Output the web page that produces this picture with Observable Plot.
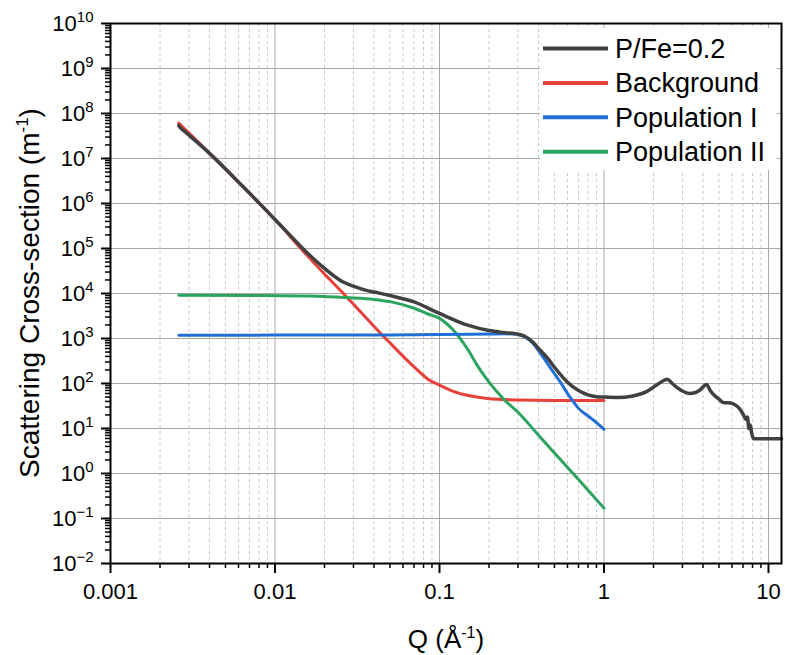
<!DOCTYPE html>
<html>
<head>
<meta charset="utf-8">
<script src="https://cdn.jsdelivr.net/npm/d3@7"></script>
<script src="https://cdn.jsdelivr.net/npm/@observablehq/plot@0.6"></script>
<style>
  html, body { margin: 0; padding: 0; background: white; }
  #wrap { position: relative; width: 785px; height: 655px; font-family: "Liberation Sans", Arial, sans-serif; }
  #legend { position: absolute; left: 540px; top: 28px; width: 237px; height: 142px; background: white; }
</style>
</head>
<body>
<div id="wrap"><div id="legend"></div></div>
<script>
// ---- Data ----
const seriesNames = ["P/Fe=0.2", "Background", "Population I", "Population II"];
const seriesColors = ["#404040", "#e8403a", "#1f6fd6", "#2ba45f"];
const seriesWidths = [3.5, 3, 3, 3];

// P/Fe=0.2 measured curve
const qSample = [0.0026, 0.00265, 0.0027, 0.0028, 0.003, 0.004, 0.0063, 0.01, 0.012, 0.0158, 0.02, 0.025, 0.03, 0.035, 0.043, 0.05, 0.07, 0.1, 0.15, 0.2, 0.25, 0.3, 0.33, 0.37, 0.4, 0.45, 0.5, 0.6, 0.7, 0.8, 0.9, 1.0, 1.2, 1.5, 1.8, 2.0, 2.2, 2.42, 2.6, 2.8, 3.0, 3.3, 3.6, 3.8, 4.2, 4.4, 4.7, 5.0, 5.3, 5.9, 6.3, 6.7, 7.0, 7.3, 7.45, 7.6, 7.75, 7.9, 8.1, 8.25, 12];
const iSample = [5.4e7, 4.9e7, 4.6e7, 4.1e7, 3.3e7, 1.3e7, 2.5e6, 4.4e5, 2.2e5, 7.8e4, 3.6e4, 1.95e4, 1.45e4, 1.2e4, 1.02e4, 9.0e3, 6.5e3, 3.6e3, 1.95e3, 1.5e3, 1.35e3, 1.25e3, 1.12e3, 830, 600, 380, 230, 107, 70, 56, 51, 50, 49, 53, 65, 83, 105, 125, 100, 80, 68, 60, 63, 70, 95, 72, 54, 45, 38, 37, 33, 27, 21, 16, 18, 10, 12, 8, 6, 5.9, 5.9];

// Background fit
const qBackground = [0.0026, 0.004, 0.0063, 0.01, 0.0158, 0.02, 0.0251, 0.0316, 0.0398, 0.045, 0.05, 0.063, 0.07, 0.085, 0.1, 0.12, 0.15, 0.2, 0.3, 0.5, 1.0];
const iBackground = [6.1e7, 1.32e7, 2.5e6, 4.4e5, 6.8e4, 2.7e4, 1.15e4, 4.7e3, 1.9e3, 1.18e3, 800, 340, 235, 125, 92, 68, 54, 46, 43, 42, 42];

// Population I
const qPop1 = [0.0026, 0.01, 0.05, 0.1, 0.2, 0.25, 0.3, 0.33, 0.37, 0.4, 0.45, 0.5, 0.55, 0.6, 0.65, 0.7, 0.8, 0.9, 1.0];
const iPop1 = [1.18e3, 1.19e3, 1.2e3, 1.22e3, 1.26e3, 1.27e3, 1.22e3, 1.08e3, 780, 540, 290, 165, 100, 60, 40, 28, 19, 13.5, 9.6];

// Population II
const qPop2 = [0.0026, 0.007, 0.015, 0.02, 0.027, 0.04, 0.05, 0.07, 0.085, 0.1, 0.12, 0.15, 0.17, 0.2, 0.25, 0.3, 0.4, 0.5, 0.7, 1.0];
const iPop2 = [9.1e3, 9.0e3, 8.8e3, 8.6e3, 8.1e3, 7.4e3, 6.6e3, 4.7e3, 3.5e3, 2.8e3, 1.6e3, 540, 250, 107, 42, 23, 7.1, 2.85, 0.74, 0.17];

// Axis ticks
const xMajor = [0.001, 0.01, 0.1, 1, 10];
const xTickLabels = ["0.001", "0.01", "0.1", "1", "10"];
const xMinor = [2,3,4,5,6,7,8,9].flatMap(m => [0.001, 0.01, 0.1, 1].map(d => +(m * d).toPrecision(3)));
const yMajor = d3.range(-2, 11).map(e => Math.pow(10, e));
const yMinor = d3.range(-2, 10).flatMap(e => [2,3,4,5,6,7,8,9].map(m => m * Math.pow(10, e)));

const toRows = (qs, is) => qs.map((q, k) => ({q, i: is[k]}));
const seriesData = [
  toRows(qSample, iSample),
  toRows(qBackground, iBackground),
  toRows(qPop1, iPop1),
  toRows(qPop2, iPop2)
];
const drawOrder = [1, 3, 2, 0];

const chart = Plot.plot({
  width: 785,
  height: 655,
  marginLeft: 110,
  marginRight: 4,
  marginTop: 23,
  marginBottom: 92,
  style: {fontFamily: "'Liberation Sans', Arial, sans-serif", background: "white", color: "black"},
  x: {type: "log", domain: [0.001, 12]},
  y: {type: "log", domain: [1e-2, 1e10]},
  marks: [
    Plot.gridX({ticks: xMinor, stroke: "#c8c8c8", strokeOpacity: 1, strokeDasharray: "3,3"}),
    Plot.gridX({ticks: xMajor, stroke: "#a8a8a8", strokeOpacity: 1}),
    Plot.gridY({ticks: yMajor, stroke: "#a8a8a8", strokeOpacity: 1}),
    ...drawOrder.map(k => Plot.line(seriesData[k], {x: "q", y: "i", stroke: seriesColors[k], strokeWidth: seriesWidths[k], curve: "monotone-x"})),
    Plot.frame({stroke: "black", strokeWidth: 2}),
    Plot.axisX({ticks: xMajor, tickSize: 10, tickPadding: 10, strokeWidth: 2, label: null,
      tickFormat: d => "x:" + xTickLabels[xMajor.findIndex(v => Math.abs(v - d) < 1e-9)]}),
    Plot.axisX({ticks: xMinor, tickSize: 5, strokeWidth: 1.5, tickFormat: () => "", label: null}),
    Plot.axisY({ticks: yMajor, tickSize: 9, tickPadding: 8, strokeWidth: 2, label: null,
      tickFormat: d => "10^" + Math.round(Math.log10(d))}),
    Plot.axisY({ticks: yMinor, tickSize: 5, strokeWidth: 1.5, tickFormat: () => "", label: null})
  ]
});

document.getElementById("wrap").prepend(chart);
const svg = d3.select(chart);

// tick label sizing and superscripts
svg.selectAll("text").each(function() {
  const t = this.textContent;
  const sel = d3.select(this);
  if (t.startsWith("10^")) {
    const exp = t.slice(3).replace("-", "\u2212");
    sel.selectAll("*").remove();
    this.textContent = "";
    sel.style("font-size", "22px");
    sel.append("tspan").text("10");
    sel.append("tspan").style("font-size", "15px").attr("dy", -9).text(exp);
  } else if (t.startsWith("x:")) {
    sel.selectAll("*").remove();
    this.textContent = t.slice(2);
    sel.style("font-size", "22px");
  }
});

// axis titles
const yTitle = svg.append("text")
  .attr("transform", "translate(39,293) rotate(-90)")
  .attr("text-anchor", "middle").style("font-size", "28px").attr("fill", "black");
yTitle.append("tspan").text("Scattering Cross-section (m");
yTitle.append("tspan").style("font-size", "17px").attr("dy", -11).text("-1");
yTitle.append("tspan").attr("dy", 11).text(")");

const xTitle = svg.append("text")
  .attr("x", 446).attr("y", 648)
  .attr("text-anchor", "middle").style("font-size", "26px").attr("fill", "black");
xTitle.append("tspan").text("Q (Å");
xTitle.append("tspan").style("font-size", "16px").attr("dy", -10).text("-1");
xTitle.append("tspan").attr("dy", 10).text(")");

// legend
const leg = d3.select("#legend").append("svg").attr("width", 237).attr("height", 142)
  .style("font-family", "'Liberation Sans', Arial, sans-serif");
seriesNames.forEach((name, k) => {
  const cy = 20.5 + k * 34.4;
  leg.append("line").attr("x1", 3).attr("x2", 68).attr("y1", cy).attr("y2", cy)
    .attr("stroke", seriesColors[k]).attr("stroke-width", 4);
  leg.append("text").attr("x", 75).attr("y", cy + 9.5).style("font-size", "27px").attr("fill", "black").text(name);
});
</script>
</body>
</html>
